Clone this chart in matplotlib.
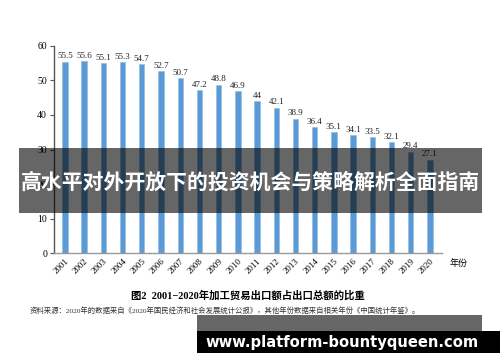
import matplotlib
matplotlib.use("Agg")
import matplotlib.pyplot as plt
from matplotlib.patches import Rectangle
import numpy as np

plt.rcParams['font.family'] = ['Liberation Serif', 'Noto Sans CJK SC']

years = [str(y) for y in range(2001, 2021)]
share = [55.5, 55.6, 55.1, 55.3, 54.7, 52.7, 50.7, 47.2, 48.8, 46.9,
         44, 42.1, 38.9, 36.4, 35.1, 34.1, 33.5, 32.1, 29.4, 27.1]
yticks = [0, 10, 20, 30, 40, 50, 60]

title = "图2  2001−2020年加工贸易出口额占出口总额的比重"
source = "资料来源：2020年的数据来自《2020年国民经济和社会发展统计公报》，其他年份数据来自相关年份《中国统计年鉴》。"
banner = "高水平对外开放下的投资机会与策略解析全面指南"
site = "www.platform-bountyqueen.com"

fig = plt.figure(figsize=(5, 3.62), dpi=100)
ax = fig.add_axes([0.108, 0.301, 0.776, 0.572])

x = np.arange(len(years))
bars = ax.bar(x, share, width=0.28, color="#5b9bd5", edgecolor="#8dbbe3", linewidth=0.4)
for xi, v in zip(x, share):
    ax.text(xi, v + 0.4, f"{v:g}", ha="center", va="bottom", fontsize=6.5, color="#222222")

ax.set_xlim(-0.57, 19.63)
ax.set_ylim(0, 60)
ax.set_yticks(yticks)
ax.tick_params(axis="y", labelsize=7, length=3, width=0.8, color="#555555", pad=2)
ax.set_xticks(x)
ax.set_xticklabels(years, rotation=45, ha="right", rotation_mode="anchor", fontsize=6.5)
ax.tick_params(axis="x", length=0, pad=3)
for s in ["top", "right"]:
    ax.spines[s].set_visible(False)
ax.spines["left"].set_color("#555555")
ax.spines["left"].set_linewidth(1.0)
ax.spines["bottom"].set_color("#999999")
ax.spines["bottom"].set_linewidth(1.0)

fig.text(0.9, 0.273, "年份", fontsize=6.5, ha="left", va="center")
fig.text(0.495, 0.185, title, fontsize=7.5, fontweight="bold", ha="center", va="center")
fig.text(0.06, 0.143, source, fontsize=5.3, ha="left", va="center", color="#333333")

# overlay banner
fig.add_artist(Rectangle((0.038, 1 - 213 / 362), 0.926, 65 / 362, transform=fig.transFigure,
                         facecolor="black", alpha=0.6, edgecolor="none", zorder=5))
fig.text(0.5, 1 - 182 / 362, banner, fontsize=15, fontweight="bold", color="white",
         ha="center", va="center", family=["Noto Sans CJK SC"], zorder=6)

fig.add_artist(Rectangle((0.394, 1 - 331 / 362), 0.57, 16 / 362, transform=fig.transFigure,
                         facecolor="black", alpha=0.6, edgecolor="none", zorder=5))
fig.add_artist(Rectangle((0.394, 1 - 353 / 362), 0.606, 22 / 362, transform=fig.transFigure,
                         facecolor="black", edgecolor="none", zorder=5))
fig.text(0.685, 1 - 342 / 362, site, fontsize=10.6, fontweight="bold", color="white",
         ha="center", va="center", family=["DejaVu Sans"], zorder=6)

fig.savefig("out.png", dpi=100)
